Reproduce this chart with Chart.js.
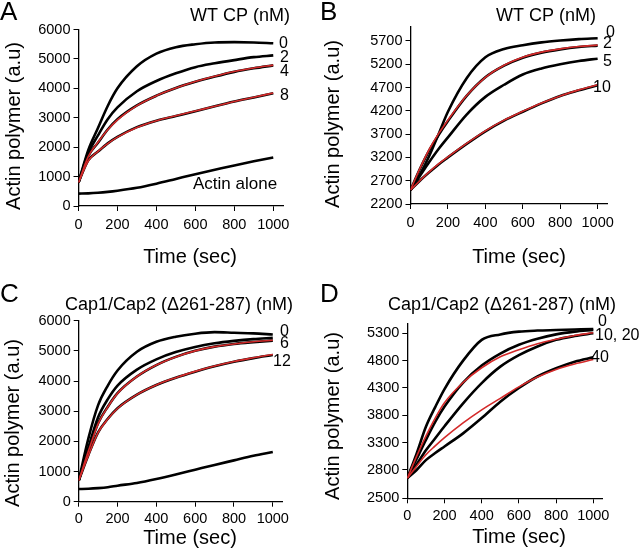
<!DOCTYPE html>
<html><head><meta charset="utf-8">
<script src="https://cdn.jsdelivr.net/npm/chart.js@4.4.0/dist/chart.umd.min.js"></script>
<style>
html,body{margin:0;padding:0;background:#fff;width:640px;height:552px;overflow:hidden;position:relative}
canvas{position:absolute}
</style></head><body>
<canvas id="cA" width="320" height="272" style="left:0;top:0"></canvas>
<canvas id="cB" width="320" height="272" style="left:320px;top:0"></canvas>
<canvas id="cC" width="320" height="280" style="left:0;top:272px"></canvas>
<canvas id="cD" width="320" height="280" style="left:320px;top:272px"></canvas>
<script>
// ---- data ----
const time = [0, 50, 100, 150, 200, 300, 400, 500, 600, 700, 800, 900, 1000];
const xTickValues = [0, 200, 400, 600, 800, 1000];

// Panel A: WT CP (nM)
const aCP0   = [800, 1900, 2650, 3400, 4000, 4750, 5180, 5400, 5500, 5560, 5570, 5560, 5530];
const aCP2   = [800, 1800, 2400, 2950, 3350, 3900, 4250, 4510, 4720, 4850, 4960, 5060, 5120];
const aCP4   = [800, 1700, 2150, 2600, 2950, 3420, 3750, 4010, 4220, 4400, 4560, 4680, 4780];
const aCP4fit= [800, 1680, 2170, 2590, 2930, 3410, 3750, 4010, 4230, 4410, 4570, 4690, 4790];
const aCP8   = [800, 1550, 1850, 2130, 2350, 2680, 2900, 3060, 3220, 3390, 3550, 3690, 3830];
const aCP8fit= [800, 1530, 1860, 2120, 2340, 2670, 2900, 3070, 3230, 3390, 3550, 3700, 3840];
const aActin = [420, 430, 450, 480, 520, 620, 760, 920, 1080, 1230, 1380, 1520, 1650];
const aTicksY = [0, 1000, 2000, 3000, 4000, 5000, 6000];

// Panel B: WT CP (nM)
const bCP0   = [2500, 2830, 3230, 3700, 4180, 4900, 5350, 5530, 5610, 5670, 5710, 5740, 5760];
const bCP2   = [2500, 2950, 3350, 3680, 3980, 4520, 4920, 5170, 5340, 5450, 5520, 5570, 5600];
const bCP2fit= [2500, 2960, 3370, 3710, 4000, 4530, 4920, 5180, 5350, 5460, 5530, 5580, 5610];
const bCP5   = [2500, 2800, 3100, 3380, 3630, 4120, 4500, 4760, 4980, 5110, 5200, 5270, 5320];
const bCP10  = [2500, 2700, 2880, 3050, 3200, 3490, 3760, 3990, 4180, 4360, 4520, 4640, 4750];
const bCP10fit=[2500, 2700, 2890, 3060, 3210, 3500, 3770, 4000, 4190, 4370, 4520, 4650, 4760];
const bTicksY = [2200, 2700, 3200, 3700, 4200, 4700, 5200, 5700];

// Panel C: Cap1/Cap2 (Δ261-287) (nM)
const cCP0   = [700, 2100, 3200, 3850, 4350, 4970, 5300, 5470, 5570, 5620, 5600, 5580, 5540];
const cCP3   = [700, 1800, 2800, 3400, 3850, 4380, 4720, 4960, 5130, 5250, 5330, 5390, 5430];
const cCP6   = [700, 1700, 2600, 3150, 3600, 4150, 4530, 4800, 5000, 5140, 5230, 5290, 5340];
const cCP6fit= [700, 1680, 2580, 3140, 3590, 4150, 4530, 4800, 5000, 5140, 5230, 5300, 5350];
const cCP12  = [700, 1550, 2300, 2750, 3100, 3550, 3870, 4110, 4310, 4490, 4640, 4760, 4860];
const cCP12fit=[700, 1530, 2290, 2740, 3090, 3550, 3870, 4110, 4320, 4500, 4650, 4770, 4880];
const cActin = [420, 430, 450, 480, 530, 620, 750, 900, 1060, 1220, 1370, 1520, 1650];
const cTicksY = [0, 1000, 2000, 3000, 4000, 5000, 6000];

// Panel D: Cap1/Cap2 (Δ261-287) (nM)
const dCP0   = [2650, 3100, 3590, 3950, 4280, 4800, 5180, 5280, 5330, 5350, 5360, 5370, 5380];
const dCP10  = [2650, 3000, 3350, 3680, 3960, 4400, 4710, 4930, 5090, 5200, 5280, 5330, 5360];
const dCP10fit=[2650, 3050, 3420, 3750, 4030, 4400, 4670, 4870, 5000, 5110, 5190, 5260, 5310];
const dCP20  = [2650, 2900, 3160, 3380, 3600, 4020, 4390, 4690, 4900, 5060, 5180, 5250, 5300];
const dCP40  = [2650, 2800, 2980, 3110, 3230, 3470, 3750, 4050, 4300, 4510, 4660, 4780, 4860];
const dCP40fit=[2650, 2870, 3080, 3240, 3390, 3660, 3900, 4110, 4320, 4500, 4640, 4740, 4820];
// the reference axis labels its bottom end "2500" although it sits below 2800 by more than 300 units
const dTicksY = [2282, 2800, 3300, 3800, 4300, 4800, 5300];
const dTickLabels = ['2500', '2800', '3300', '3800', '4300', '4800', '5300'];

// ---- drawing ----
const FONT = '"Liberation Sans", Arial, Helvetica, sans-serif';
const RED = '#d42a2a';

function textPlugin(p) {
  return {
    id: 'txt' + p.id,
    afterDraw(chart) {
      const ctx = chart.ctx, ox = p.canvas.left, oy = p.canvas.top;
      ctx.save();
      ctx.fillStyle = '#000';
      ctx.textBaseline = 'alphabetic';
      ctx.textAlign = 'left';
      ctx.font = '26px ' + FONT;
      ctx.fillText(p.letter.text, p.letter.x - ox, p.letter.y - oy);
      ctx.textAlign = 'center';
      ctx.font = '18px ' + FONT;
      ctx.fillText(p.title.text, p.title.x - ox, p.title.y - oy);
      ctx.textAlign = 'left';
      for (const l of p.labels) {
        ctx.font = (l.size || 16) + 'px ' + FONT;
        ctx.fillText(l.text, l.x - ox, l.y - oy);
      }
      ctx.font = '20px ' + FONT;
      ctx.textAlign = 'center';
      ctx.textBaseline = 'middle';
      ctx.fillText('Time (sec)', p.xTitle.x - ox, p.xTitle.y - oy);
      ctx.translate(p.yTitle.x - ox, p.yTitle.y - oy);
      ctx.rotate(-Math.PI / 2);
      ctx.fillText('Actin polymer (a.u)', 0, 0);
      ctx.restore();
    }
  };
}

function axisStyle() {
  return {
    grid: {drawOnChartArea: false, drawTicks: true, tickLength: 5, color: '#000', lineWidth: 1},
    border: {display: true, color: '#000', width: 1.3},
  };
}

function build(p) {
  const cv = p.canvas, a = p.area;
  const datasets = p.series.map(s => ({
    data: time.map((t, i) => ({x: t, y: s.values[i]})),
    borderColor: s.fit ? RED : '#000',
    borderWidth: s.fit ? 1.6 : 2.6,
    order: s.fit ? 0 : 1,
    pointRadius: 0,
    fill: false,
    cubicInterpolationMode: 'monotone'
  }));
  new Chart(document.getElementById(p.id), {
    type: 'line',
    data: {datasets},
    options: {
      responsive: false, animation: false, events: [],
      layout: {padding: {left: 0, top: a.t - cv.top, right: cv.left + cv.w - a.r, bottom: 0}},
      plugins: {legend: {display: false}, tooltip: {enabled: false}},
      scales: {
        x: Object.assign({
          type: 'linear', min: 0, max: p.xMax,
          afterBuildTicks: s => { s.ticks = xTickValues.map(v => ({value: v})); },
          afterFit: s => { s.height = cv.top + cv.h - a.b; },
          ticks: {color: '#000', font: {family: FONT, size: 14.5}, padding: p.xPad, maxRotation: 0, autoSkip: false,
                  callback: v => String(v)}
        }, axisStyle()),
        y: Object.assign({
          type: 'linear', min: p.yMin, max: p.yMax,
          afterBuildTicks: s => { s.ticks = p.yTicks.map(v => ({value: v})); },
          afterFit: s => { s.width = a.l - cv.left; },
          ticks: {color: '#000', font: {family: FONT, size: 14.5}, padding: 3, autoSkip: false,
                  callback: (v, i) => p.yTickLabels ? p.yTickLabels[i] : String(v)}
        }, axisStyle())
      }
    },
    plugins: [textPlugin(p)]
  });
}

build({
  id: 'cA', canvas: {left: 0, top: 0, w: 320, h: 272},
  area: {l: 78.5, t: 29.5, r: 283, b: 206}, xPad: 5,
  xMax: 1050, yMin: 0, yMax: 6000, yTicks: aTicksY,
  letter: {text: 'A', x: 0, y: 20},
  title: {text: 'WT CP (nM)', x: 240, y: 21},
  labels: [{text: '0', x: 279, y: 48}, {text: '2', x: 280, y: 62}, {text: '4', x: 280, y: 76},
           {text: '8', x: 280, y: 100}, {text: 'Actin alone', x: 193, y: 189, size: 17}],
  xTitle: {x: 190, y: 257}, yTitle: {x: 14, y: 126},
  series: [{values: aCP0}, {values: aCP2}, {values: aCP4}, {values: aCP8}, {values: aActin},
           {values: aCP4fit, fit: true}, {values: aCP8fit, fit: true}]
});
build({
  id: 'cB', canvas: {left: 320, top: 0, w: 320, h: 272},
  area: {l: 410.5, t: 27, r: 607, b: 204}, xPad: 5,
  xMax: 1050, yMin: 2200, yMax: 6000, yTicks: bTicksY,
  letter: {text: 'B', x: 320, y: 20},
  title: {text: 'WT CP (nM)', x: 546, y: 21},
  labels: [{text: '0', x: 606, y: 37}, {text: '2', x: 603, y: 48}, {text: '5', x: 603, y: 66},
           {text: '10', x: 593, y: 92}],
  xTitle: {x: 519, y: 257}, yTitle: {x: 333, y: 124},
  series: [{values: bCP0}, {values: bCP2}, {values: bCP5}, {values: bCP10},
           {values: bCP2fit, fit: true}, {values: bCP10fit, fit: true}]
});
build({
  id: 'cC', canvas: {left: 0, top: 272, w: 320, h: 280},
  area: {l: 78.7, t: 320.7, r: 282.5, b: 501.7}, xPad: 4,
  xMax: 1050, yMin: 0, yMax: 6000, yTicks: cTicksY,
  letter: {text: 'C', x: 0, y: 302},
  title: {text: 'Cap1/Cap2 (Δ261-287) (nM)', x: 179, y: 310},
  labels: [{text: '0', x: 280, y: 336}, {text: '6', x: 280, y: 348}, {text: '12', x: 273, y: 366}],
  xTitle: {x: 190, y: 538}, yTitle: {x: 13, y: 423},
  series: [{values: cCP0}, {values: cCP3}, {values: cCP6}, {values: cCP12}, {values: cActin},
           {values: cCP6fit, fit: true}, {values: cCP12fit, fit: true}]
});
build({
  id: 'cD', canvas: {left: 320, top: 272, w: 320, h: 280},
  area: {l: 407.3, t: 323.3, r: 602.6, b: 498.3}, xPad: 4,
  xMax: 1050, yMin: 2282, yMax: 5483, yTicks: dTicksY, yTickLabels: dTickLabels,
  letter: {text: 'D', x: 320, y: 302},
  title: {text: 'Cap1/Cap2 (Δ261-287) (nM)', x: 502, y: 310},
  labels: [{text: '0', x: 598, y: 326}, {text: '10, 20', x: 595, y: 340}, {text: '40', x: 591, y: 362}],
  xTitle: {x: 519, y: 537}, yTitle: {x: 333, y: 416},
  series: [{values: dCP0}, {values: dCP10}, {values: dCP20}, {values: dCP40},
           {values: dCP10fit, fit: true}, {values: dCP40fit, fit: true}]
});
</script>
</body></html>
